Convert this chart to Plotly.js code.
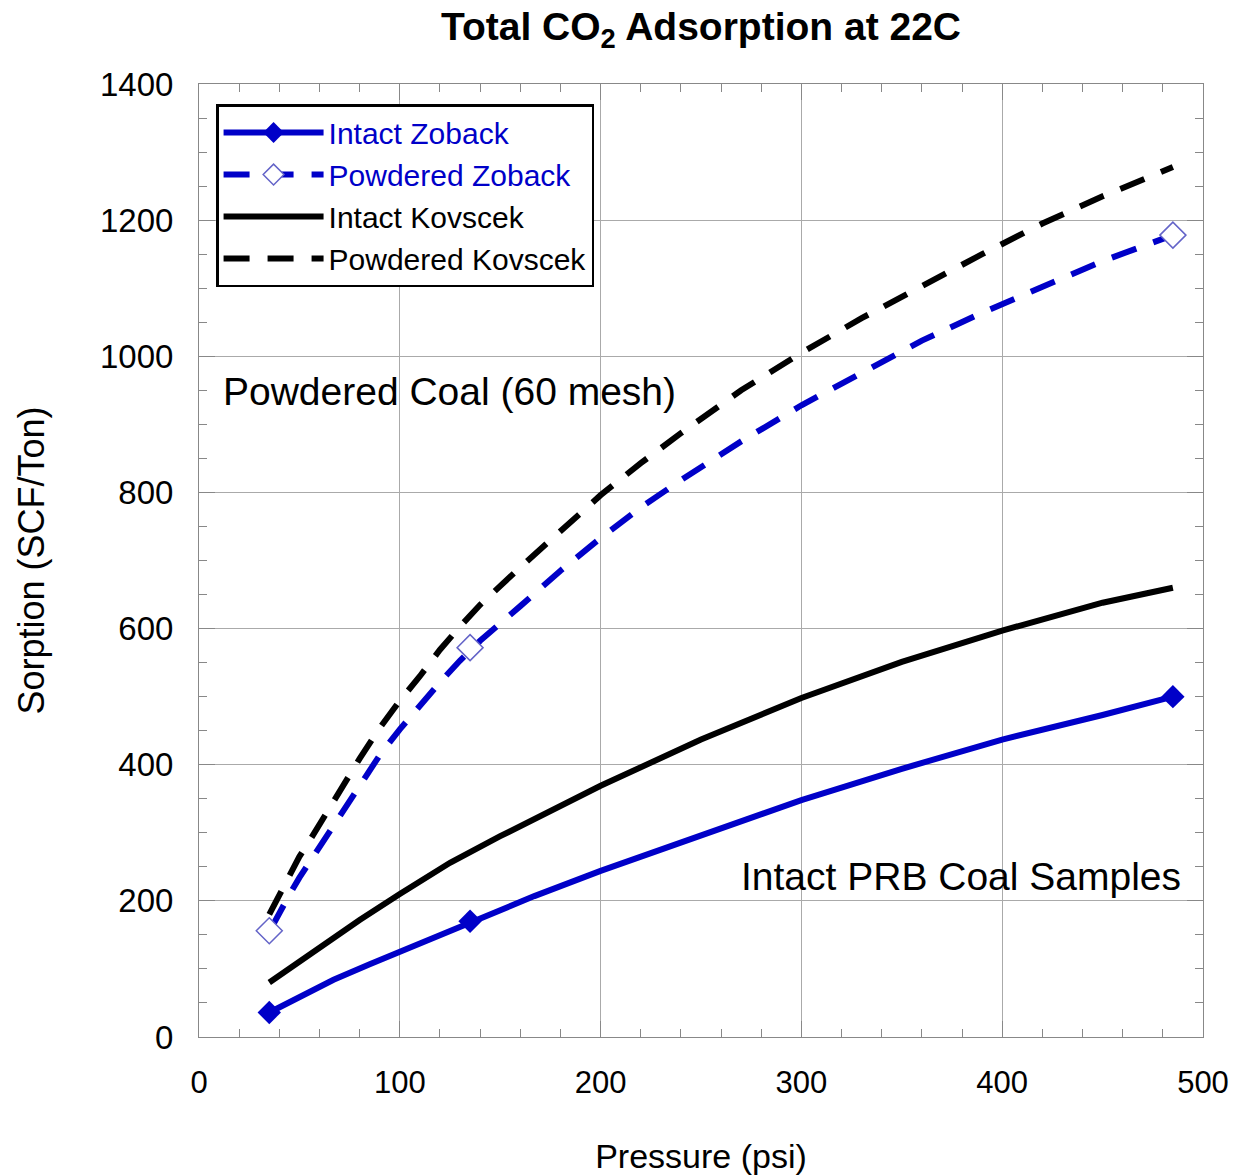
<!DOCTYPE html>
<html>
<head>
<meta charset="utf-8">
<script src="https://cdn.plot.ly/plotly-3.0.1.min.js"></script>
<style>html,body{margin:0;padding:0;background:#fff;}#chart{width:1234px;height:1175px;}</style>
</head>
<body>
<div id="chart"></div>
<script>
// ---- data ----
// measured points (markers)
var zobackPressure = [35, 135, 485];
var intactZobackPoints = [36, 170, 500];
var powderedZobackPoints = [156, 572, 1178];

// Intact Zoback curve (blue solid)
var intactZobackCurveX = [35, 50, 67, 85, 100, 120, 135, 150, 167, 200, 250, 300, 350, 400, 450, 485];
var intactZobackCurveY = [36, 58, 84, 107, 125, 149, 169, 187, 207, 244, 297, 348, 394, 437, 473, 500];

// Powdered Zoback curve (blue dashed)
var powderedZobackCurveX = [36, 40, 45, 50, 55, 60, 70, 80, 90, 100, 110, 120, 130, 140, 160, 180, 200, 220, 240, 270, 300, 330, 360, 390, 420, 450, 485];
var powderedZobackCurveY = [160, 183, 209, 234, 257, 280, 325, 370, 414, 452, 487, 521, 553, 582, 633, 685, 733, 778, 818, 875, 928, 975, 1023, 1064, 1103, 1140, 1178];

// Intact Kovscek curve (black solid)
var intactKovscekX = [35, 50, 60, 80, 100, 125, 150, 175, 200, 250, 300, 350, 400, 450, 485];
var intactKovscekY = [80, 111, 131, 172, 210, 256, 295, 332, 369, 437, 498, 551, 597, 638, 660];

// Powdered Kovscek curve (black dashed)
var powderedKovscekX = [35, 40, 45, 50, 55, 60, 70, 80, 90, 100, 110, 120, 130, 140, 160, 180, 200, 220, 240, 270, 300, 330, 360, 390, 420, 450, 485];
var powderedKovscekY = [180, 209, 240, 265, 288, 313, 361, 409, 454, 494, 530, 569, 603, 635, 690, 744, 796, 843, 887, 950, 1005, 1056, 1104, 1150, 1195, 1235, 1278];

var seriesNames = ['Intact Zoback', 'Powdered Zoback', 'Intact Kovscek', 'Powdered Kovscek'];
var xTickVals = [0, 100, 200, 300, 400, 500];
var yTickVals = [0, 200, 400, 600, 800, 1000, 1200, 1400];

// ---- styles ----
var BLUE = '#0000c8';
var OPEN = '#6464c8';
var FONT = 'Liberation Sans, Arial, Helvetica, sans-serif';
var DASH = '26px,18px';

var traces = [
  // curves
  {x: powderedKovscekX, y: powderedKovscekY, mode: 'lines', showlegend: false, hoverinfo: 'skip',
   line: {color: '#000', width: 6, dash: DASH}},
  {x: intactKovscekX, y: intactKovscekY, mode: 'lines', showlegend: false, hoverinfo: 'skip',
   line: {color: '#000', width: 6}},
  {x: powderedZobackCurveX, y: powderedZobackCurveY, mode: 'lines', showlegend: false, hoverinfo: 'skip',
   line: {color: BLUE, width: 6, dash: DASH}},
  {x: intactZobackCurveX, y: intactZobackCurveY, mode: 'lines', showlegend: false, hoverinfo: 'skip',
   line: {color: BLUE, width: 6}},
  // measured points
  {x: zobackPressure, y: powderedZobackPoints, mode: 'markers', showlegend: false,
   marker: {symbol: 'diamond', size: 20, color: '#fff', line: {color: OPEN, width: 1.5}}},
  {x: zobackPressure, y: intactZobackPoints, mode: 'markers', showlegend: false,
   marker: {symbol: 'diamond', size: 18, color: BLUE, line: {color: BLUE, width: 0}}},
  // legend entries
  {x: [null], y: [null], mode: 'lines+markers', name: '<span style="color:' + BLUE + '">' + seriesNames[0] + '</span>',
   line: {color: BLUE, width: 6}, marker: {symbol: 'diamond', size: 18, color: BLUE}},
  {x: [null], y: [null], mode: 'lines+markers', name: '<span style="color:' + BLUE + '">' + seriesNames[1] + '</span>',
   line: {color: BLUE, width: 6, dash: DASH}, marker: {symbol: 'diamond', size: 20, color: '#fff', line: {color: OPEN, width: 1.5}}},
  {x: [null], y: [null], mode: 'lines', name: seriesNames[2], line: {color: '#000', width: 6}},
  {x: [null], y: [null], mode: 'lines', name: seriesNames[3], line: {color: '#000', width: 6, dash: DASH}}
];

var axisCommon = {
  showline: true, linecolor: '#888', linewidth: 1, mirror: 'ticks',
  ticks: 'inside', ticklen: 16, tickcolor: '#888', tickwidth: 1,
  showgrid: true, gridcolor: '#aaa', gridwidth: 1, zeroline: false,
  ticklabelstandoff: 18
};

var layout = {
  width: 1234, height: 1175,
  margin: {l: 199, r: 31, t: 84, b: 138},
  paper_bgcolor: '#fff', plot_bgcolor: '#fff',
  font: {family: FONT, color: '#000'},
  showlegend: true,
  title: {text: '<b>Total CO<sub>2</sub> Adsorption at 22C</b>', font: {family: FONT, size: 39, color: '#000'},
          x: 0.5, xanchor: 'center', xref: 'paper', y: 0.978, yanchor: 'middle', yref: 'container'},
  xaxis: Object.assign({}, axisCommon, {
    range: [0, 500], tickvals: xTickVals, ticktext: xTickVals.map(String),
    tickfont: {family: FONT, size: 31, color: '#000'},
    minor: {dtick: 20, ticks: 'inside', ticklen: 8, tickcolor: '#888', showgrid: false},
    title: {text: 'Pressure (psi)', font: {family: FONT, size: 34, color: '#000'}, standoff: 48}
  }),
  yaxis: Object.assign({}, axisCommon, {
    range: [0, 1400], tickvals: yTickVals, ticktext: yTickVals.map(String),
    tickfont: {family: FONT, size: 33, color: '#000'},
    minor: {dtick: 50, ticks: 'inside', ticklen: 8, tickcolor: '#888', showgrid: false},
    title: {text: 'Sorption (SCF/Ton)', font: {family: FONT, size: 36, color: '#000'}, standoff: 44}
  }),
  legend: {
    x: 0.017, y: 0.979, xanchor: 'left', yanchor: 'top',
    bgcolor: '#fff', bordercolor: '#000', borderwidth: 2.5,
    font: {family: FONT, size: 30, color: '#000'},
    itemwidth: 100, tracegroupgap: 0
  },
  annotations: [
    {text: 'Powdered Coal (60 mesh)', x: 11, y: 948, xref: 'x', yref: 'y', xanchor: 'left', yanchor: 'middle',
     showarrow: false, font: {family: FONT, size: 39, color: '#000'}},
    {text: 'Intact PRB Coal Samples', x: 490, y: 236, xref: 'x', yref: 'y', xanchor: 'right', yanchor: 'middle',
     showarrow: false, font: {family: FONT, size: 39, color: '#000'}}
  ]
};

Plotly.newPlot('chart', traces, layout, {displayModeBar: false, staticPlot: true});
</script>
</body>
</html>
